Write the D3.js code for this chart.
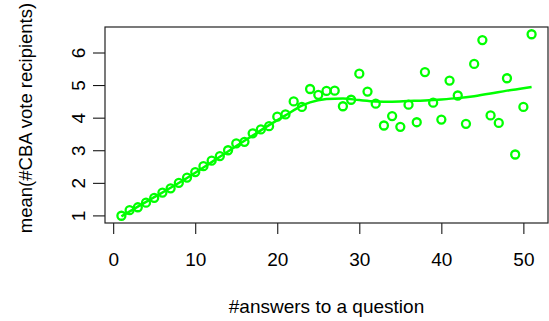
<!DOCTYPE html>
<html>
<head>
<meta charset="utf-8">
<script src="https://cdn.jsdelivr.net/npm/d3@7"></script>
<style>
  body { margin: 0; background: #fff; }
  svg { display: block; font-family: 'Liberation Sans', Arial, sans-serif; }
  .tick text { font-size: 19px; fill: #000; }
  .tick line { stroke: #000; }
</style>
</head>
<body>
<svg id="chart"></svg>
<script>
// #answers to a question (1..51) and mean #CBA vote recipients
var answers = d3.range(1, 52);
var meanRecipients = [
  0.99, 1.16, 1.25, 1.39, 1.54, 1.70, 1.83, 2.00, 2.16, 2.33,
  2.51, 2.68, 2.82, 3.00, 3.21, 3.26, 3.52, 3.64, 3.74, 4.03,
  4.10, 4.50, 4.33, 4.88, 4.70, 4.82, 4.83, 4.35, 4.55, 5.35,
  4.80, 4.43, 3.76, 4.05, 3.72, 4.40, 3.86, 5.40, 4.46, 3.94,
  5.14, 4.68, 3.81, 5.65, 6.38, 4.07, 3.84, 5.21, 2.87, 4.33,
  6.56
];

// smoothed trend
var smoothX = [1, 3, 5, 7, 9, 11, 13, 15, 17, 19, 21, 23, 24, 26, 28, 30, 32, 34, 36, 38, 40, 42, 44, 46, 48, 50, 51];
var smoothY = [0.97, 1.27, 1.56, 1.85, 2.15, 2.47, 2.80, 3.13, 3.45, 3.77, 4.07, 4.37, 4.47, 4.57, 4.59, 4.54, 4.50, 4.49, 4.51, 4.53, 4.56, 4.60, 4.66, 4.74, 4.83, 4.90, 4.94];

var xTicks = [0, 10, 20, 30, 40, 50];
var yTicks = [1, 2, 3, 4, 5, 6];

var width = 549, height = 321;
var margin = { top: 27, right: 1, bottom: 98, left: 105 };

var svg = d3.select("#chart").attr("width", width).attr("height", height);

// R-style 4% padding on both axes
var xExt = d3.extent(answers), yExt = d3.extent(meanRecipients);
var xPad = (xExt[1] - xExt[0]) * 0.04, yPad = (yExt[1] - yExt[0]) * 0.04;

var x = d3.scaleLinear()
  .domain([xExt[0] - xPad, xExt[1] + xPad])
  .range([margin.left, width - margin.right]);
var y = d3.scaleLinear()
  .domain([yExt[0] - yPad, yExt[1] + yPad])
  .range([height - margin.bottom, margin.top]);

var plotBottom = height - margin.bottom;

// x axis
svg.append("g")
  .attr("transform", "translate(0," + plotBottom + ")")
  .call(d3.axisBottom(x).tickValues(xTicks).tickSize(11).tickPadding(19).tickFormat(d3.format("d")))
  .call(g => g.select(".domain").remove());

// y axis, labels rotated like R's default
var yAxis = svg.append("g")
  .attr("transform", "translate(" + margin.left + ",0)")
  .call(d3.axisLeft(y).tickValues(yTicks).tickSize(12).tickFormat(d3.format("d")))
  .call(g => g.select(".domain").remove());

yAxis.selectAll(".tick text")
  .attr("x", null)
  .attr("dy", null)
  .attr("text-anchor", "middle")
  .attr("transform", "translate(-20,0) rotate(-90)");

// plot box
svg.append("rect")
  .attr("x", margin.left).attr("y", margin.top)
  .attr("width", width - margin.left - margin.right)
  .attr("height", plotBottom - margin.top)
  .attr("fill", "none").attr("stroke", "#222").attr("stroke-width", 1.2);

// smooth line
var pts = smoothX.map((d, i) => [d, smoothY[i]]);
svg.append("path")
  .datum(pts)
  .attr("fill", "none")
  .attr("stroke", "#00ff00")
  .attr("stroke-width", 2.5)
  .attr("d", d3.line().x(d => x(d[0])).y(d => y(d[1])).curve(d3.curveMonotoneX));

// points
svg.append("g").selectAll("circle")
  .data(answers)
  .enter()
  .append("circle")
  .attr("cx", d => x(d))
  .attr("cy", (d, i) => y(meanRecipients[i]))
  .attr("r", 4)
  .attr("fill", "none")
  .attr("stroke", "#00ff00")
  .attr("stroke-width", 2.3);

// axis titles
svg.append("text")
  .attr("x", (margin.left + width - margin.right) / 2)
  .attr("y", 313)
  .attr("text-anchor", "middle")
  .attr("font-size", 19)
  .text("#answers to a question");

svg.append("text")
  .attr("transform", "translate(32,118) rotate(-90)")
  .attr("text-anchor", "middle")
  .attr("font-size", 18.5)
  .text("mean(#CBA vote recipients)");
</script>
</body>
</html>
